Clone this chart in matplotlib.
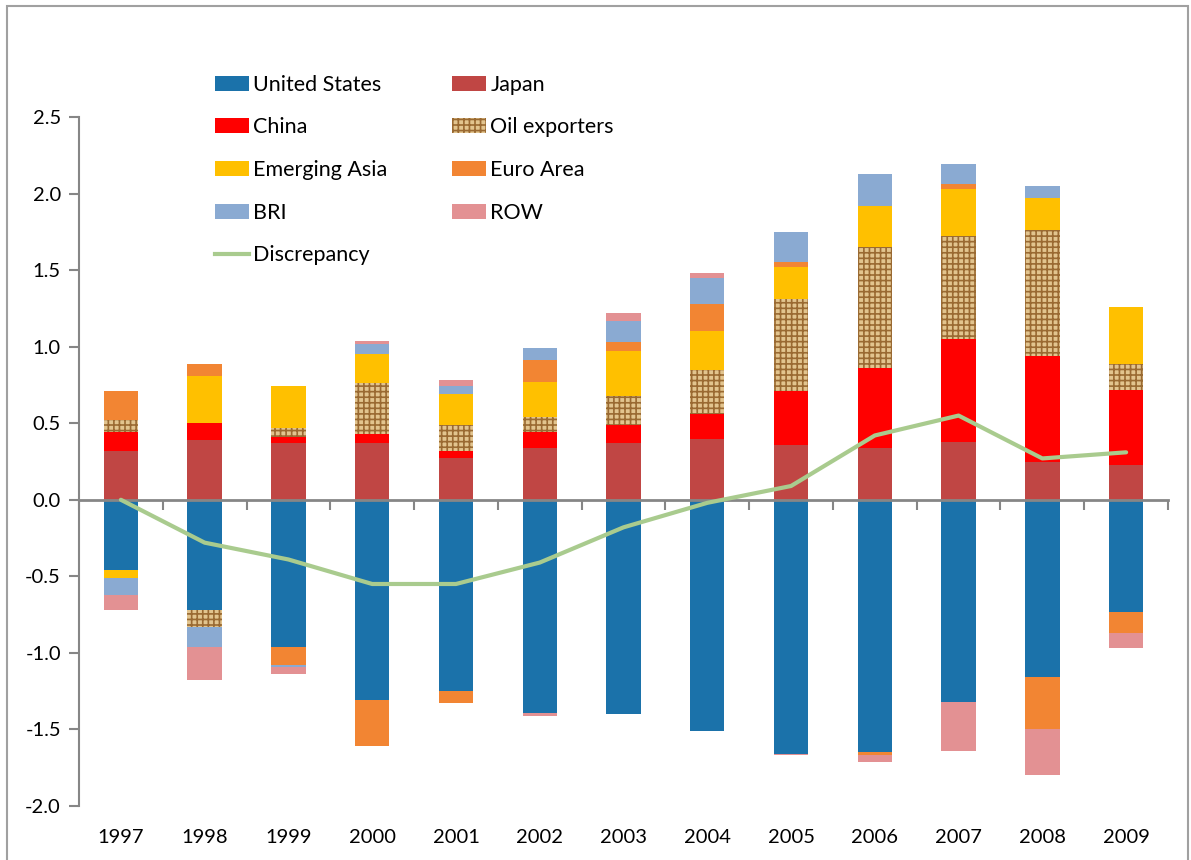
import numpy as np
import matplotlib
matplotlib.use("Agg")
import matplotlib.pyplot as plt
from matplotlib.patches import Rectangle
from matplotlib.lines import Line2D
import matplotlib.transforms as mtransforms

plt.rcParams['font.family'] = ['Lato', 'DejaVu Sans']
plt.rcParams['axes.unicode_minus'] = False
plt.rcParams['hatch.linewidth'] = 1.2

years = ["1997", "1998", "1999", "2000", "2001", "2002", "2003",
         "2004", "2005", "2006", "2007", "2008", "2009"]

us = [-0.46, -0.72, -0.96, -1.31, -1.25, -1.39, -1.40, -1.51, -1.66, -1.65, -1.32, -1.16, -0.73]
japan = [0.32, 0.39, 0.37, 0.37, 0.27, 0.34, 0.37, 0.40, 0.36, 0.34, 0.38, 0.25, 0.23]
china = [0.12, 0.11, 0.04, 0.06, 0.05, 0.10, 0.12, 0.16, 0.35, 0.52, 0.67, 0.69, 0.49]
oil = [0.08, -0.11, 0.06, 0.33, 0.17, 0.10, 0.19, 0.29, 0.60, 0.79, 0.67, 0.82, 0.17]
em_asia = [-0.05, 0.31, 0.27, 0.19, 0.20, 0.23, 0.29, 0.25, 0.21, 0.27, 0.31, 0.21, 0.37]
euro = [0.19, 0.08, -0.12, -0.30, -0.08, 0.14, 0.06, 0.18, 0.03, -0.02, 0.03, -0.34, -0.14]
bri = [-0.11, -0.13, -0.01, 0.07, 0.05, 0.08, 0.14, 0.17, 0.20, 0.21, 0.13, 0.08, 0.0]
row = [-0.10, -0.22, -0.05, 0.02, 0.04, -0.02, 0.05, 0.03, -0.01, -0.04, -0.32, -0.30, -0.10]
discrepancy = [0.0, -0.28, -0.39, -0.55, -0.55, -0.41, -0.18, -0.02, 0.09, 0.42, 0.55, 0.27, 0.31]

series = [
    ("United States", us, dict(color="#1B72AA")),
    ("Japan", japan, dict(color="#C04644")),
    ("China", china, dict(color="#FF0000")),
    ("Oil exporters", oil, dict(facecolor="#E2C48E", edgecolor="#9A6A32", hatch="+++")),
    ("Emerging Asia", em_asia, dict(color="#FFC000")),
    ("Euro Area", euro, dict(color="#F28533")),
    ("BRI", bri, dict(color="#8AAAD2")),
    ("ROW", row, dict(color="#E39193")),
]

fig = plt.figure(figsize=(11.91, 8.6), dpi=100)
ax = fig.add_axes([79 / 1191, 54 / 860, 1089 / 1191, 689 / 860])

x = np.arange(len(years))
pos_bottom = np.zeros(len(years))
neg_bottom = np.zeros(len(years))
handles = {}
for name, vals, style in series:
    vals = np.array(vals)
    bottom = np.where(vals >= 0, pos_bottom, neg_bottom)
    bars = ax.bar(x, vals, width=0.41, bottom=bottom, linewidth=0, label=name, **style)
    handles[name] = bars
    pos_bottom += np.where(vals >= 0, vals, 0)
    neg_bottom += np.where(vals < 0, vals, 0)

ax.plot(x, discrepancy, color="#A9CB8E", lw=3, solid_capstyle="round", zorder=5)

ax.set_xlim(-0.5, 12.5)
ax.set_ylim(-2.0, 2.5)
yt = np.arange(-2.0, 2.51, 0.5)
ax.set_yticks(yt)
ax.set_yticklabels([f"{v:.1f}" for v in yt])
ax.tick_params(axis="y", length=7, width=1.5, color="#868686", labelsize=14.5, pad=6)

for s in ["top", "right"]:
    ax.spines[s].set_visible(False)
ax.spines["left"].set_color("#868686")
ax.spines["left"].set_linewidth(1.5)
ax.spines["bottom"].set_position(("data", 0))
ax.spines["bottom"].set_color("#868686")
ax.spines["bottom"].set_linewidth(2)

# category boundaries get the tick marks, year labels sit below the plot
ax.set_xticks(np.arange(-0.5, 12.6, 1.0))
ax.set_xticklabels([])
ax.tick_params(axis="x", length=7, width=1.5, color="#868686", direction="out")

trans = mtransforms.blended_transform_factory(ax.transData, ax.transAxes)
for i, yr in enumerate(years):
    ax.text(i, -0.046, yr, transform=trans, ha="center", va="center", fontsize=14.5)

order = ["United States", "China", "Emerging Asia", "BRI", None,
         "Japan", "Oil exporters", "Euro Area", "ROW"]
leg_handles = []
leg_labels = []
for name in order:
    if name is None:
        leg_handles.append(Line2D([], [], color="#A9CB8E", lw=3))
        leg_labels.append("Discrepancy")
    else:
        leg_handles.append(handles[name])
        leg_labels.append(name)
fig.legend(leg_handles, leg_labels, ncol=2, frameon=False, fontsize=15.5,
           loc="upper left", bbox_to_anchor=(204 / 1191, 1 - 64 / 860),
           handlelength=1.58, handleheight=0.7, handletextpad=0.2,
           labelspacing=1.05, columnspacing=3.0, borderpad=0)

fig.patches.append(Rectangle((7 / 1191, -0.05), 1181 / 1191, 1.05 - 6 / 860,
                             transform=fig.transFigure, fill=False,
                             edgecolor="#A0A0A0", lw=1.5))

fig.savefig("out.png", dpi=100)
